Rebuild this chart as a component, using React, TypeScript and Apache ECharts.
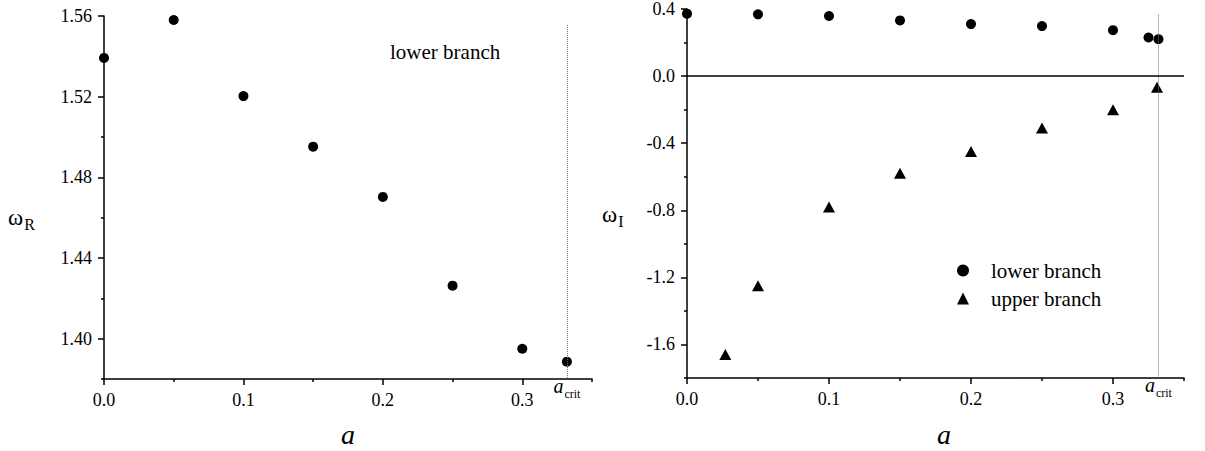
import React, { useEffect, useRef } from "react";
import * as echarts from "echarts";

// ---- data ----
const aR = [0, 0.05, 0.1, 0.15, 0.2, 0.25, 0.3, 0.332];
const omegaR = [1.5392, 1.558, 1.5203, 1.4952, 1.4703, 1.4263, 1.395, 1.3886];

const aLower = [0, 0.05, 0.1, 0.15, 0.2, 0.25, 0.3, 0.325, 0.332];
const omegaILower = [0.372, 0.368, 0.358, 0.332, 0.31, 0.298, 0.274, 0.23, 0.22];

const aUpper = [0.027, 0.05, 0.1, 0.15, 0.2, 0.25, 0.3, 0.331];
const omegaIUpper = [-1.66, -1.25, -0.78, -0.58, -0.45, -0.31, -0.2, -0.067];

const aCrit = 0.332;

const xMajor = [0, 0.1, 0.2, 0.3];
const xMinor = [0.05, 0.15, 0.25, 0.35];
const leftYMajor = [1.4, 1.44, 1.48, 1.52, 1.56];
const leftYMinor = [1.38, 1.42, 1.46, 1.5, 1.54];
const rightYMajor = [-1.6, -1.2, -0.8, -0.4, 0, 0.4];
const rightYMinor = [-1.8, -1.4, -1.0, -0.6, -0.2, 0.2];

const seriesNames = ["lower branch", "upper branch"];

const FONT = "'Liberation Serif', 'Times New Roman', 'DejaVu Serif', serif";

export default function App() {
  const ref = useRef<HTMLDivElement>(null);

  useEffect(() => {
    if (!ref.current) return;
    const chart = echarts.init(ref.current, null, { renderer: "svg" });

    const axisLine = { show: true, onZero: false, lineStyle: { color: "#000", width: 1.5 } };
    const tickStyle = { color: "#000", width: 1.5 };
    const labelBase = { color: "#000", fontFamily: FONT, fontSize: 18, lineHeight: 18 };

    const mainX = (gridIndex: number) => ({
      type: "value",
      gridIndex,
      min: 0,
      max: 0.35,
      position: "bottom",
      axisLine,
      splitLine: { show: false },
      axisTick: { show: true, customValues: xMajor, length: 6, lineStyle: tickStyle },
      axisLabel: {
        ...labelBase,
        customValues: xMajor,
        margin: 12,
        formatter: (v: number) => v.toFixed(1),
      },
    });
    const minorX = (gridIndex: number) => ({
      type: "value",
      gridIndex,
      min: 0,
      max: 0.35,
      position: "bottom",
      axisLine: { show: false, onZero: false },
      splitLine: { show: false },
      axisTick: { show: true, customValues: xMinor, length: 3, lineStyle: tickStyle },
      axisLabel: {
        customValues: [aCrit],
        margin: -3,
        formatter: () => "{a|a}{s|crit}",
        rich: {
          a: { fontFamily: FONT, fontStyle: "italic", fontSize: 20, lineHeight: 20, verticalAlign: "top", color: "#000" },
          s: { fontFamily: FONT, fontSize: 12, lineHeight: 12, padding: [16, 0, 0, 1], color: "#000" },
        },
      },
    });
    const mainY = (gridIndex: number, min: number, max: number, major: number[], digits: number) => ({
      type: "value",
      gridIndex,
      min,
      max,
      position: "left",
      axisLine,
      splitLine: { show: false },
      axisTick: { show: true, customValues: major, length: 6, lineStyle: tickStyle },
      axisLabel: {
        ...labelBase,
        customValues: major,
        margin: 12,
        formatter: (v: number) => v.toFixed(digits),
      },
    });
    const minorY = (gridIndex: number, min: number, max: number, minor: number[]) => ({
      type: "value",
      gridIndex,
      min,
      max,
      position: "left",
      axisLine: { show: false, onZero: false },
      splitLine: { show: false },
      axisTick: { show: true, customValues: minor, length: 3, lineStyle: tickStyle },
      axisLabel: { show: false },
    });

    const omegaRich = {
      w: { fontFamily: FONT, fontSize: 23, lineHeight: 23, verticalAlign: "top", fill: "#000" },
      s: { fontFamily: FONT, fontSize: 16, lineHeight: 16, padding: [14, 0, 0, 1], fill: "#000" },
    };

    const option: any = {
      animation: false,
      backgroundColor: "#fff",
      textStyle: { fontFamily: FONT, color: "#000" },
      grid: [
        { left: 104, top: 16, width: 488, height: 363 },
        { left: 687, top: 9, width: 497, height: 369 },
      ],
      xAxis: [mainX(0), minorX(0), mainX(1), minorX(1)],
      yAxis: [
        mainY(0, 1.38, 1.56, leftYMajor, 2),
        minorY(0, 1.38, 1.56, leftYMinor),
        mainY(1, -1.8, 0.4, rightYMajor, 1),
        minorY(1, -1.8, 0.4, rightYMinor),
      ],
      legend: {
        left: 957,
        top: 260,
        padding: 0,
        orient: "vertical",
        itemWidth: 12,
        itemHeight: 12,
        itemGap: 7,
        data: seriesNames,
        textStyle: { fontFamily: FONT, fontSize: 21, lineHeight: 21, color: "#000", padding: [0, 0, 0, 17] },
        selectedMode: false,
      },
      graphic: [
        {
          type: "text",
          left: 390,
          top: 41,
          style: { text: "lower branch", fontFamily: FONT, fontSize: 21, fill: "#000" },
        },
        {
          type: "text",
          left: 8,
          top: 202,
          style: { text: "{w|ω}{s|R}", fontFamily: FONT, rich: omegaRich },
        },
        {
          type: "text",
          left: 602,
          top: 199,
          style: { text: "{w|ω}{s|I}", fontFamily: FONT, rich: omegaRich },
        },
        {
          type: "text",
          x: 348,
          y: 434,
          style: { text: "a", fontFamily: FONT, fontStyle: "italic", fontSize: 28, lineHeight: 28, fill: "#000", align: "center", verticalAlign: "middle" },
        },
        {
          type: "text",
          x: 944,
          y: 434,
          style: { text: "a", fontFamily: FONT, fontStyle: "italic", fontSize: 28, lineHeight: 28, fill: "#000", align: "center", verticalAlign: "middle" },
        },
      ],
      series: [
        {
          type: "line",
          xAxisIndex: 0,
          yAxisIndex: 0,
          data: [],
          z: 1,
          silent: true,
          markLine: {
            silent: true,
            symbol: "none",
            label: { show: false },
            lineStyle: { type: "dotted", color: "#777", width: 1 },
            data: [[{ coord: [aCrit, 1.5555] }, { coord: [aCrit, 1.38] }]],
          },
        },
        {
          type: "line",
          xAxisIndex: 2,
          yAxisIndex: 2,
          data: [],
          z: 1,
          silent: true,
          markLine: {
            silent: true,
            symbol: "none",
            label: { show: false },
            data: [
              [
                { coord: [aCrit, 0.366], lineStyle: { type: "dotted", color: "#777", width: 1 } },
                { coord: [aCrit, -1.8] },
              ],
              [
                { coord: [0, 0], lineStyle: { type: "solid", color: "#000", width: 1.5 } },
                { coord: [0.35, 0] },
              ],
            ],
          },
        },
        {
          type: "scatter",
          xAxisIndex: 0,
          yAxisIndex: 0,
          symbol: "circle",
          symbolSize: 10,
          clip: false,
          itemStyle: { color: "#000", opacity: 1 },
          data: aR.map((a, i) => [a, omegaR[i]]),
          z: 3,
        },
        {
          name: seriesNames[0],
          type: "scatter",
          xAxisIndex: 2,
          yAxisIndex: 2,
          symbol: "circle",
          symbolSize: 10,
          clip: false,
          itemStyle: { color: "#000", opacity: 1 },
          data: aLower.map((a, i) => [a, omegaILower[i]]),
          z: 3,
        },
        {
          name: seriesNames[1],
          type: "scatter",
          xAxisIndex: 2,
          yAxisIndex: 2,
          symbol: "triangle",
          symbolSize: [12, 11],
          clip: false,
          itemStyle: { color: "#000", opacity: 1 },
          data: aUpper.map((a, i) => [a, omegaIUpper[i]]),
          z: 3,
        },
      ],
    };

    chart.setOption(option);
    return () => chart.dispose();
  }, []);

  return (
    <div
      ref={ref}
      style={{ position: "absolute", left: 0, top: 0, width: 1205, height: 451, background: "#fff" }}
    />
  );
}
